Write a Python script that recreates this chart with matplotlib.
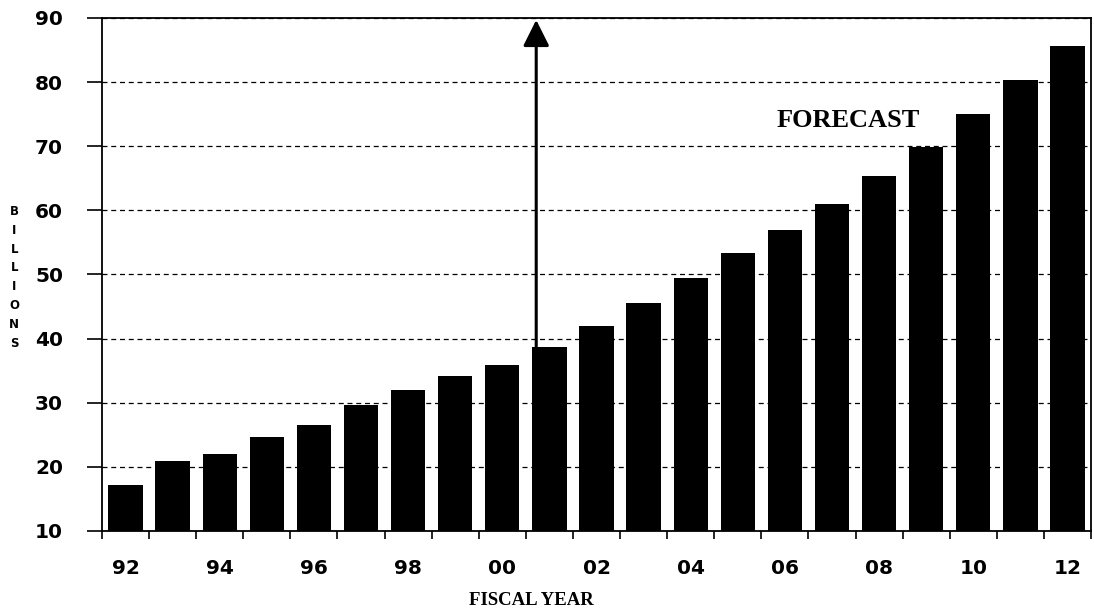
import numpy as np
import matplotlib
matplotlib.use('Agg')
import matplotlib.pyplot as plt

# ── Data ──────────────────────────────────────────────────────────────────────
years = ['92', '93', '94', '95', '96', '97', '98', '99', '00', '01', '02',
         '03', '04', '05', '06', '07', '08', '09', '10', '11', '12']
billions = [17.2, 20.9, 22.0, 24.6, 26.5, 29.7, 32.0, 34.1, 35.9, 38.7, 42.0,
            45.6, 49.5, 53.3, 57.0, 61.0, 65.4, 69.9, 75.1, 80.3, 85.6]
forecast_start = '01'
y_ticks = [10, 20, 30, 40, 50, 60, 70, 80, 90]

# ── Figure ────────────────────────────────────────────────────────────────────
fig = plt.figure(figsize=(10.94, 6.12), dpi=100)
ax = fig.add_axes([0.0932, 0.1324, 0.9041, 0.8382])

x = np.arange(len(years))
ax.bar(x, billions, width=0.73, bottom=0, color='black', zorder=3)

ax.set_xlim(-0.5, len(years) - 0.5)
ax.set_ylim(10, 90)

# y axis
ax.set_yticks(y_ticks)
ax.set_yticklabels([str(v) for v in y_ticks], fontsize=14.5, fontweight='bold',
                   family='DejaVu Sans')
ax.tick_params(axis='y', direction='out', length=11, width=1.2, pad=17)
ax.grid(axis='y', linestyle=(0, (4, 3)), color='black', linewidth=0.9,
        zorder=0)

# x axis: tick marks between bars, labels every other year under bars
ax.set_xticks(np.arange(len(years) + 1) - 0.5)
ax.set_xticklabels([])
ax.tick_params(axis='x', which='major', direction='out', length=6, width=1.2)
ax.set_xticks(x[::2], minor=True)
ax.set_xticklabels(years[::2], minor=True, fontsize=14.5, fontweight='bold',
                   family='DejaVu Sans')
ax.tick_params(axis='x', which='minor', length=0, pad=20)

for sp in ax.spines.values():
    sp.set_color('black')
    sp.set_linewidth(1.3)

# forecast arrow
xi = years.index(forecast_start)
ax.annotate('', xy=(xi - 0.28, 89.7), xytext=(xi - 0.28, billions[xi]),
            arrowprops=dict(arrowstyle='-|>,head_length=0.8,head_width=0.4',
                            mutation_scale=20, color='black', lw=2.2,
                            shrinkA=0, shrinkB=0),
            zorder=5)
ax.text(0.755, 0.80, 'FORECAST', transform=ax.transAxes, ha='center',
        va='center', fontsize=19, fontweight='bold', family='Liberation Serif')

# axis titles
fig.text(0.013, 0.547, 'B\nI\nL\nL\nI\nO\nN\nS', ha='center', va='center',
         fontsize=8.5, fontweight='bold', family='DejaVu Sans', linespacing=1.58)
fig.text(0.486, 0.018, 'FISCAL YEAR', ha='center', va='center',
         fontsize=13.5, fontweight='bold', family='Liberation Serif')

fig.savefig('out.png', dpi=100, facecolor='white')
